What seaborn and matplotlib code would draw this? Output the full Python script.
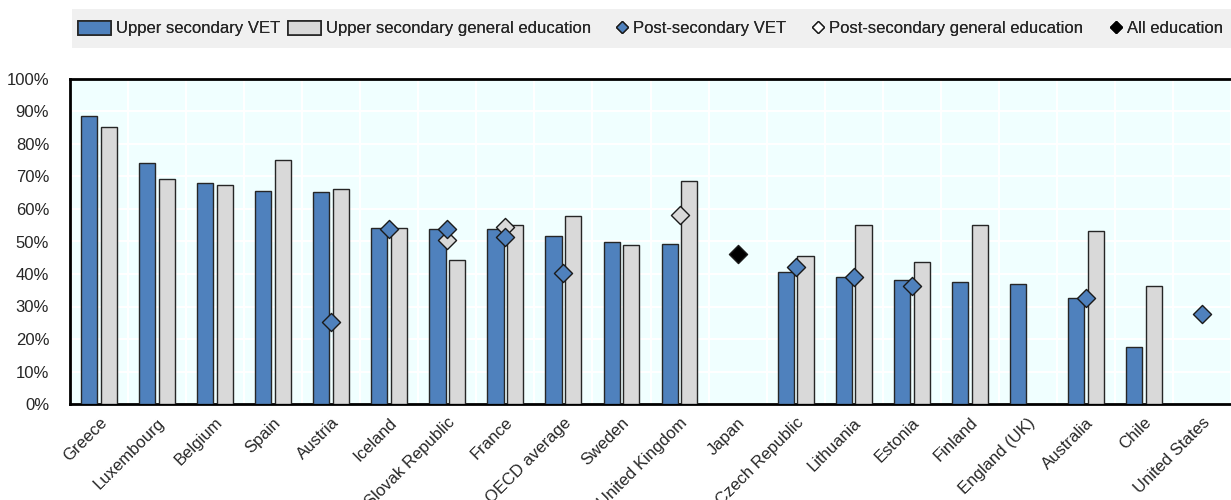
import pandas as pd
import matplotlib
matplotlib.use("Agg")
import matplotlib.pyplot as plt
import matplotlib.ticker as mticker
from matplotlib.lines import Line2D
from matplotlib.patches import Patch, Rectangle
import seaborn as sns
import numpy as np

sns.set_style('white')
plt.rcParams['font.family'] = ['Liberation Sans', 'DejaVu Sans']

# -----------------------------
# data
# -----------------------------
countries = ["Greece", "Luxembourg", "Belgium", "Spain", "Austria", "Iceland",
             "Slovak Republic", "France", "OECD average", "Sweden", "United Kingdom",
             "Japan", "Czech Republic", "Lithuania", "Estonia", "Finland",
             "England (UK)", "Australia", "Chile", "United States"]
upper_vet = [88.5, 74.3, 67.9, 65.4, 65.2, 54.1, 53.8, 53.7, 51.7, 49.8, 49.3,
             np.nan, 40.5, 39.0, 38.3, 37.6, 36.9, 32.5, 17.6, np.nan]
upper_gen = [85.2, 69.3, 67.5, 75.2, 66.2, 54.1, 44.3, 55.2, 57.7, 49.0, 68.7,
             np.nan, 45.5, 55.2, 43.6, 55.2, np.nan, 53.1, 36.3, np.nan]
post_vet = [np.nan, np.nan, np.nan, np.nan, 25.2, 53.8, 53.9, 51.3, 40.3, np.nan, np.nan,
            np.nan, 42.1, 39.1, 36.2, np.nan, np.nan, 32.5, np.nan, 27.6]
post_gen = [np.nan, np.nan, np.nan, np.nan, np.nan, np.nan, 50.4, 54.4, np.nan, np.nan, 58.0,
            np.nan, np.nan, np.nan, np.nan, np.nan, np.nan, np.nan, np.nan, np.nan]
all_edu = [np.nan] * 11 + [46.0] + [np.nan] * 8

bar_names = ["Upper secondary VET", "Upper secondary general education"]
point_names = ["Post-secondary VET", "Post-secondary general education", "All education"]
blue, grey, edge = "#4F81BD", "#D9D9D9", "#262626"

bars = pd.DataFrame({
    "country": countries * 2,
    "value": upper_vet + upper_gen,
    "series": [bar_names[0]] * len(countries) + [bar_names[1]] * len(countries),
})

W, H = 1231, 500
fig = plt.figure(figsize=(W / 100, H / 100), dpi=100)
ax = fig.add_axes([70 / W, 96 / H, 1 - 70 / W, 325 / H])
ax.set_facecolor("#F0FFFF")

sns.barplot(data=bars, x="country", y="value", hue="series", order=countries,
            hue_order=bar_names, palette=[blue, grey], saturation=1,
            width=0.68, gap=0.18, edgecolor=edge, linewidth=1.0,
            ax=ax, legend=False, zorder=3)

xs = np.arange(len(countries))
diamond_style = dict(marker="D", s=85, edgecolor="#1a1a1a", linewidth=1.0, zorder=5)
ax.scatter(xs, post_gen, color=grey, **diamond_style)
ax.scatter(xs, post_vet, color=blue, **diamond_style)
ax.scatter(xs, all_edu, color="black", **diamond_style)

# -----------------------------
# axes styling
# -----------------------------
ax.set_ylim(0, 100)
ax.set_xlim(-0.5, 19.35)
ax.yaxis.set_major_locator(mticker.MultipleLocator(10))
ax.yaxis.set_major_formatter(mticker.FuncFormatter(lambda v, p: f"{v:.0f}%"))
ax.set_xticks(xs)
ax.set_xticklabels(countries, rotation=45, ha="right", rotation_mode="anchor", fontsize=12)
ax.set_xticks(xs + 0.5, minor=True)
ax.tick_params(axis="x", which="major", length=0, pad=8)
ax.tick_params(axis="x", which="minor", direction="in", length=5, width=1.5, color="black")
ax.tick_params(axis="y", direction="in", length=5, width=1.5, color="black", pad=15,
               labelsize=12)
ax.set_xlabel("")
ax.set_ylabel("")

ax.grid(False)
ax.yaxis.grid(True, color="white", linewidth=1.5, zorder=0)
ax.xaxis.grid(True, which="minor", color="white", linewidth=1.5, zorder=0)
ax.set_axisbelow(True)
for side in ["top", "left", "bottom"]:
    ax.spines[side].set_color("black")
    ax.spines[side].set_linewidth(2)
ax.spines["right"].set_visible(False)

# -----------------------------
# legend strip across the top
# -----------------------------
fig.patches.append(Rectangle((72 / W, 1 - 47.7 / H), 1, 38.4 / H, transform=fig.transFigure,
                             facecolor="#F0F0F0", edgecolor="none", zorder=0))

handles = [
    Patch(facecolor=blue, edgecolor=edge, linewidth=1.2),
    Patch(facecolor=grey, edgecolor=edge, linewidth=1.2),
    Line2D([], [], marker="D", linestyle="", markersize=6.5, markerfacecolor=blue,
           markeredgecolor="#1a1a1a"),
    Line2D([], [], marker="D", linestyle="", markersize=6.5, markerfacecolor="white",
           markeredgecolor="#1a1a1a"),
    Line2D([], [], marker="D", linestyle="", markersize=6.5, markerfacecolor="black",
           markeredgecolor="black"),
]
labels = bar_names + point_names
starts = [78, 288, 614, 810, 1108]   # left edge of each legend key, in pixels
y_mid = 1 - 28.5 / H
for i, (h, lab, x0) in enumerate(zip(handles, labels, starts)):
    is_patch = i < 2
    lg = fig.legend([h], [lab], loc="center left", bbox_to_anchor=(x0 / W, y_mid),
                    frameon=False, fontsize=12, borderpad=0, borderaxespad=0,
                    handlelength=2.0 if is_patch else 1.0,
                    handleheight=0.9 if is_patch else 0.7,
                    handletextpad=0.25 if is_patch else 0.15)
    fig.add_artist(lg)

fig.savefig("out.png", dpi=100)
